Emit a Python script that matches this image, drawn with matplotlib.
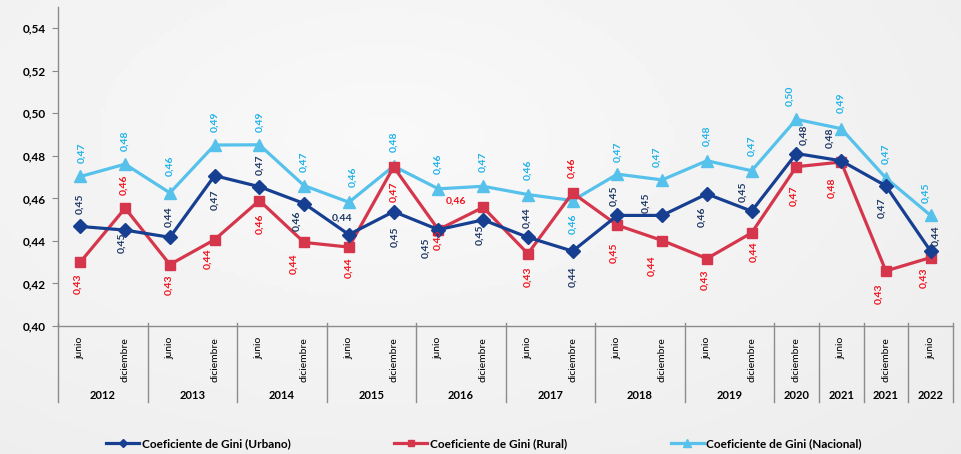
import numpy as np
import matplotlib
matplotlib.use('Agg')
import matplotlib.pyplot as plt

plt.rcParams['font.family'] = ['Lato', 'DejaVu Sans']

# data
periodos = ['junio', 'diciembre'] * 8 + ['diciembre', 'junio', 'diciembre', 'junio']
anios = ['2012', '2013', '2014', '2015', '2016', '2017', '2018', '2019',
         '2020', '2021', '2021', '2022']
anios_n = [2, 2, 2, 2, 2, 2, 2, 2, 1, 1, 1, 1]

urbano = [0.4468, 0.4451, 0.4417, 0.4707, 0.4655, 0.4576, 0.4430, 0.4538, 0.4453, 0.4499,
          0.4417, 0.4352, 0.4520, 0.4520, 0.4621, 0.4540, 0.4811, 0.4777, 0.4659, 0.4352]
rural = [0.4301, 0.4554, 0.4289, 0.4406, 0.4590, 0.4393, 0.4371, 0.4748, 0.4453, 0.4558,
         0.4340, 0.4626, 0.4474, 0.4402, 0.4317, 0.4438, 0.4749, 0.4771, 0.4259, 0.4322]
nacional = [0.4703, 0.4761, 0.4626, 0.4851, 0.4852, 0.4660, 0.4582, 0.4752, 0.4645, 0.4657,
            0.4618, 0.4590, 0.4714, 0.4687, 0.4777, 0.4730, 0.4972, 0.4928, 0.4696, 0.4520]

# label offsets in pixels (dx, dy with y down), 'h' = horizontal label
off_u = [(-1, -23), (-3, 13), (-1, -21), (0, 24), (0, -22), (-7, 17), (-7, -16, 'h'), (1, 25),
         (-13, 18), (-3, 15), (-1, -20), (0, 26), (-3, -20), (-16, -13), (-5, 23), (-9, -19),
         (7, -19), (-11, -23), (-4, 22), (5, -15)]
off_r = [(-3, 22), (-1, -23), (-1, 20), (-7, 19), (0, 23), (-10, 21), (0, 21), (0, 25),
         (0, 10), (-27, -6, 'h'), (0, 23), (-1, -25), (-3, 28), (-10, 25), (-2, 21), (2, 19),
         (-2, 29), (-9, 26), (-7, 23), (-7, 20)]
off_n = [(1, -24), (0, -23), (0, -27), (0, -23), (0, -23), (0, -24), (4, -25), (0, -24),
         (0, -25), (0, -25), (0, -25), (0, 23), (0, -22), (-5, -23), (0, -25), (0, -25),
         (-6, -23), (0, -26), (0, -24), (-5, -23)]

c_u, c_r, c_n = '#173f91', '#d5364c', '#56c1ea'
t_u, t_r, t_n = '#1f3864', '#f0141e', '#1fb2e8'

fig = plt.figure(figsize=(9.62, 4.54), dpi=100)
fig.patch.set_facecolor('#f2f2f2')

# soft grey background gradient
bg = fig.add_axes([0, 0, 1, 1], zorder=-10)
gx, gy = np.meshgrid(np.linspace(0, 1, 200), np.linspace(0, 1, 100))
shade = 0.975 - 0.06 * np.sqrt(((gx - 0.4) / 1.0) ** 2 + ((gy - 0.3) / 1.2) ** 2)
bg.imshow(shade, cmap='gray', vmin=0, vmax=1, aspect='auto', extent=(0, 1, 1, 0))
bg.axis('off')

ax = fig.add_axes([58 / 962, 128 / 454, 895 / 962, 319 / 454])
ax.set_facecolor('none')

x = np.arange(len(periodos))
ax.plot(x, urbano, color=c_u, lw=2.3, marker='D', ms=7, label='Coeficiente de Gini (Urbano)', zorder=3)
ax.plot(x, rural, color=c_r, lw=2.3, marker='s', ms=7.5, label='Coeficiente de Gini (Rural)', zorder=2)
ax.plot(x, nacional, color=c_n, lw=2.3, marker='^', ms=8.5, label='Coeficiente de Gini (Nacional)', zorder=1)


def etiquetas(vals, offs, col):
    for i, v in enumerate(vals):
        o = offs[i]
        rot = 0 if len(o) > 2 else 90
        ax.annotate(f'{v:.2f}'.replace('.', ','), (i, v), xytext=(o[0], -o[1]),
                    textcoords='offset pixels', ha='center', va='center', rotation=rot,
                    fontsize=7.5, fontweight='bold', color=col, zorder=5)


etiquetas(urbano, off_u, t_u)
etiquetas(rural, off_r, t_r)
etiquetas(nacional, off_n, t_n)

ax.set_xlim(-0.5, len(periodos) - 0.5)
ax.set_ylim(0.40, 0.55)
yt = np.arange(0.40, 0.541, 0.02)
ax.set_yticks(yt)
ax.set_yticklabels([f'{t:.2f}'.replace('.', ',') for t in yt], fontsize=8.5, fontweight='bold')
ax.tick_params(axis='y', length=4, color='#888888', pad=5)
ax.set_xticks([])
for s in ['top', 'right']:
    ax.spines[s].set_visible(False)
for s in ['left', 'bottom']:
    ax.spines[s].set_color('#8c8c8c')
    ax.spines[s].set_linewidth(1)

tr = ax.get_xaxis_transform()
for i, p in enumerate(periodos):
    ax.text(i, -0.035, p, rotation=90, ha='center', va='top', fontsize=7.5, transform=tr)

pos = -0.5
ax.plot([pos, pos], [0.01, -0.238], color='#8c8c8c', lw=1, transform=tr, clip_on=False)
for a, n in zip(anios, anios_n):
    ax.text(pos + n / 2, -0.217, a, ha='center', va='center', fontsize=8,
            fontweight='bold', transform=tr)
    pos += n
    ax.plot([pos, pos], [0.01, -0.238], color='#8c8c8c', lw=1, transform=tr, clip_on=False)

fig.legend(loc='center', bbox_to_anchor=(0.503, 10 / 454), ncol=3, frameon=False,
           handlelength=2.8, columnspacing=8.8, handletextpad=0.2, markerscale=0.6,
           prop={'size': 8.5, 'weight': 'bold'})

fig.savefig('out.png', dpi=100, facecolor=fig.get_facecolor())
